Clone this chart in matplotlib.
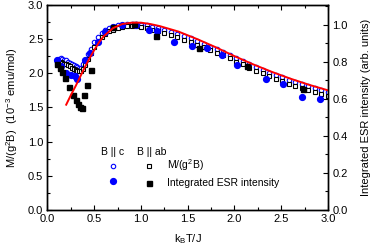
import matplotlib
matplotlib.use("Agg")
import matplotlib.pyplot as plt
from matplotlib.ticker import MultipleLocator

plt.rcParams['font.family'] = ['Liberation Sans', 'DejaVu Sans']
plt.rcParams['mathtext.fontset'] = 'custom'
plt.rcParams['mathtext.rm'] = 'Liberation Sans'
plt.rcParams['mathtext.it'] = 'Liberation Sans'

# ---- data (left axis units: 10^-3 emu/mol) ----
T_mag = [0.10,0.12,0.14,0.16,0.18,0.20,0.22,0.24,0.26,0.28,0.30,0.32,0.34,0.36,0.38,0.40,
         0.43,0.46,0.50,0.54,0.58,0.62,0.66,0.70,0.75,0.80,0.85,0.90,0.95,1.00,1.06,1.12,
         1.18,1.25,1.32,1.39,1.46,1.53,1.60,1.67,1.74,1.81,1.88,1.95,2.02,2.09,2.16,2.23,
         2.30,2.37,2.44,2.51,2.58,2.65,2.72,2.79,2.86,2.93,3.00]
M_c = [2.20,2.21,2.22,2.21,2.20,2.19,2.17,2.15,2.13,2.12,2.11,2.09,2.08,2.08,2.13,2.19,
       2.28,2.36,2.45,2.53,2.59,2.63,2.66,2.68,2.70,2.71,2.72,2.72,2.72,2.71,2.70,2.68,
       2.66,2.64,2.61,2.58,2.54,2.51,2.47,2.43,2.39,2.35,2.31,2.27,2.22,2.18,2.13,2.09,
       2.05,2.01,1.97,1.94,1.90,1.87,1.84,1.81,1.78,1.75,1.72]
M_ab = [2.15,2.16,2.16,2.15,2.14,2.13,2.12,2.10,2.08,2.06,2.05,2.04,2.03,2.03,2.06,2.12,
        2.21,2.29,2.38,2.46,2.53,2.58,2.62,2.64,2.66,2.68,2.69,2.69,2.69,2.68,2.66,2.64,
        2.62,2.59,2.56,2.53,2.49,2.45,2.42,2.38,2.34,2.30,2.26,2.22,2.17,2.13,2.08,2.04,
        2.00,1.96,1.92,1.89,1.85,1.82,1.79,1.76,1.73,1.70,1.67]

T_theory = [0.20,0.25,0.30,0.35,0.40,0.45,0.50,0.55,0.60,0.70,0.80,0.90,1.00,1.10,1.20,
            1.40,1.60,1.80,2.00,2.20,2.40,2.60,2.80,3.00]
M_theory = [1.54,1.68,1.81,1.95,2.09,2.22,2.34,2.45,2.54,2.66,2.72,2.74,2.74,2.72,2.69,
            2.61,2.50,2.38,2.25,2.13,2.02,1.92,1.83,1.75]

# ---- ESR integrated intensity (right axis, arb. units) ----
T_esr_c = [0.10,0.14,0.20,0.25,0.29,0.32,0.40,0.45,0.54,0.61,0.70,0.80,0.95,1.09,1.17,
           1.35,1.55,1.71,1.87,2.03,2.34,2.52,2.72,2.91]
I_esr_c = [0.813,0.776,0.739,0.731,0.724,0.709,0.813,0.846,0.909,0.964,0.990,0.997,0.997,
           0.972,0.968,0.909,0.887,0.876,0.839,0.783,0.706,0.680,0.613,0.602]
T_esr_ab = [0.10,0.13,0.15,0.19,0.23,0.27,0.30,0.33,0.35,0.37,0.39,0.42,0.46,0.70,0.93,
            1.16,1.62,2.13,2.73]
I_esr_ab = [0.787,0.765,0.743,0.713,0.665,0.621,0.595,0.573,0.558,0.550,0.621,0.676,0.754,
            0.990,1.005,0.942,0.876,0.779,0.654]

blue = '#0000ff'

fig = plt.figure(figsize=(3.74, 2.45), dpi=100)
ax = fig.add_axes([0.127, 0.143, 0.750, 0.837])
ax2 = ax.twinx()

h_c_open, = ax.plot(T_mag, M_c, 'o', ms=3.2, mfc='white', mec=blue, mew=0.8, ls='none')
h_ab_open, = ax.plot(T_mag, M_ab, 's', ms=3.0, mfc='white', mec='black', mew=0.8, ls='none')

h_c_fill, = ax2.plot(T_esr_c, I_esr_c, 'o', ms=4.2, color=blue, ls='none')
h_ab_fill, = ax2.plot(T_esr_ab, I_esr_ab, 's', ms=3.6, color='black', ls='none')

ax2.plot(T_theory, M_theory, '-', color='red', lw=1.4, transform=ax.transData)

ax.set_xlim(0, 3.0)
ax.set_ylim(0, 3.0)
ax2.set_ylim(0, 3.0 / 2.707)

ax.xaxis.set_major_locator(MultipleLocator(0.5))
ax.xaxis.set_minor_locator(MultipleLocator(0.25))
ax.yaxis.set_major_locator(MultipleLocator(0.5))
ax.yaxis.set_minor_locator(MultipleLocator(0.25))
ax2.yaxis.set_major_locator(MultipleLocator(0.2))
ax2.yaxis.set_minor_locator(MultipleLocator(0.1))

ax.tick_params(axis='x', which='both', direction='in', top=True, labelsize=8, pad=3)
ax.tick_params(axis='y', which='both', direction='in', labelsize=8, pad=3)
ax2.tick_params(axis='y', which='both', direction='in', labelsize=8, pad=3)
for a in (ax, ax2):
    a.tick_params(which='major', length=3.5, width=0.8)
    a.tick_params(which='minor', length=2, width=0.8)
    for s in a.spines.values():
        s.set_linewidth(1.0)

ax.set_xlabel(r'k$_{\rm B}$T/J', fontsize=8, labelpad=6)
ax.set_ylabel(r'M/(g$^2$B)  (10$^{-3}$ emu/mol)', fontsize=8, labelpad=5.5)
ax2.set_ylabel('Integrated ESR intensity (arb. units)', fontsize=8, labelpad=10)

leg = ax.legend([h_c_open, h_c_fill, h_ab_open, h_ab_fill],
                ['', '', r'M/(g$^2$B)', 'Integrated ESR intensity'],
                ncol=2, frameon=False, fontsize=7.5, handlelength=1.0,
                handletextpad=1.2, columnspacing=1.3, labelspacing=0.45,
                borderpad=0, borderaxespad=0,
                loc='upper left', bbox_to_anchor=(0.215, 0.255))
ax.text(0.233, 0.283, 'B || c', transform=ax.transAxes, fontsize=7.5,
        ha='center', va='center')
ax.text(0.37, 0.283, 'B || ab', transform=ax.transAxes, fontsize=7.5,
        ha='center', va='center')

fig.savefig('out.png', dpi=100)
